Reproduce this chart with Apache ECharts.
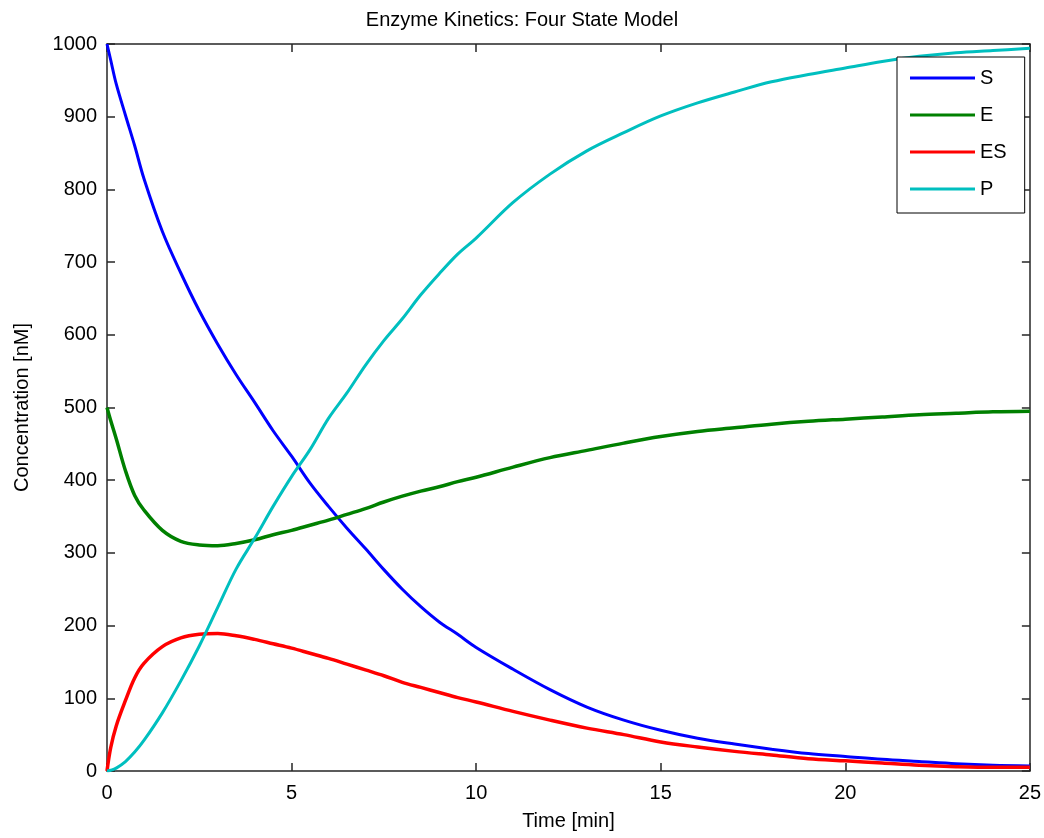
<!DOCTYPE html>
<html>
<head>
<meta charset="utf-8">
<title>Enzyme Kinetics</title>
<script src="https://cdn.jsdelivr.net/npm/echarts@6/dist/echarts.min.js"></script>
<style>
  html, body { margin: 0; padding: 0; background: #fff; }
  #main { width: 1044px; height: 838px; }
</style>
</head>
<body>
<div id="main"></div>
<script>
// time points [min]
var timeMin = [0, 0.1, 0.25, 0.5, 0.75, 1, 1.5, 2, 2.5, 3, 3.5, 4, 4.5, 5, 5.5, 6, 6.5, 7, 7.5, 8, 8.5, 9, 9.5, 10,
  11, 12, 13, 14, 15, 16, 17, 18, 19, 20, 21, 22, 23, 24, 25];
// concentrations [nM]
var sVals = [1000, 978, 945, 902, 860, 815, 742, 685, 633, 587, 545, 507, 468, 433, 396, 364, 334, 306, 277, 250, 226, 205, 188, 170,
  140, 112, 88, 70, 56, 45, 37, 30, 24, 20, 16, 13, 10, 8, 7];
var eVals = [500, 482, 457, 413, 379, 359, 331, 316, 311, 310, 313, 318, 325, 331, 338, 345, 353, 361, 370, 378, 385, 391, 398, 404,
  418, 431, 441, 451, 460, 467, 472, 477, 481, 484, 487, 490, 492, 494, 495];
var esVals = [0, 32, 62, 97, 128, 148, 171, 183, 188, 189, 186, 181, 175, 169, 162, 155, 147, 139, 131, 122, 115, 108, 101, 95,
  82, 70, 59, 50, 40, 33, 27, 22, 17, 14, 11, 8, 6, 5, 5];
var pVals = [0, 1, 4, 13, 26, 42, 80, 124, 172, 225, 278, 320, 364, 405, 442, 485, 520, 558, 592, 622, 655, 684, 711, 733,
  782, 821, 853, 878, 901, 919, 934, 948, 958, 967, 976, 983, 988, 991, 994];

var seriesNames = ['S', 'E', 'ES', 'P'];
var seriesColors = ['#0000ff', '#008000', '#ff0000', '#00bfbf'];
var seriesData = [sVals, eVals, esVals, pVals];

function pairs(vals) {
  return timeMin.map(function (t, i) { return [t, vals[i]]; });
}

var font = "'Liberation Sans', Arial, sans-serif";
var axisColor = '#262626';

var myChart = echarts.init(document.getElementById('main'));

var series = seriesNames.map(function (name, i) {
  return {
    name: name,
    type: 'line',
    data: pairs(seriesData[i]),
    symbol: 'none',
    smooth: 0.35,
    lineStyle: { color: seriesColors[i], width: (name === 'E' || name === 'ES') ? 3.5 : 3 },
    itemStyle: { color: seriesColors[i] }
  };
});

myChart.setOption({
  backgroundColor: '#fff',
  animation: false,
  title: {
    text: 'Enzyme Kinetics: Four State Model',
    left: 'center',
    top: 5,
    textStyle: { fontFamily: font, fontSize: 20, fontWeight: 'normal', color: '#000' }
  },
  legend: {
    data: seriesNames,
    orient: 'vertical',
    left: 897,
    top: 57,
    padding: [11, 18, 14, 13],
    icon: 'path://M0,0L65,0L65,3L0,3Z',
    itemWidth: 65,
    itemHeight: 14,
    itemGap: 17,
    backgroundColor: '#fff',
    borderColor: '#000',
    borderWidth: 1,
    textStyle: { fontFamily: font, fontSize: 20, color: '#000' }
  },
  grid: {
    left: 107,
    right: 12,
    top: 44,
    bottom: 67
  },
  xAxis: [
    {
      type: 'value',
      min: 0,
      max: 25,
      interval: 5,
      name: 'Time [min]',
      nameLocation: 'middle',
      nameGap: 40,
      nameTextStyle: { fontFamily: font, fontSize: 20, color: '#000' },
      axisLine: { onZero: false, lineStyle: { color: axisColor, width: 1.5 } },
      axisTick: { inside: true, length: 8, lineStyle: { color: axisColor, width: 1.5 } },
      axisLabel: { margin: 12, fontFamily: font, fontSize: 20, color: '#000' },
      splitLine: { show: false }
    },
    {
      type: 'value',
      position: 'top',
      min: 0,
      max: 25,
      interval: 5,
      axisLine: { onZero: false, lineStyle: { color: axisColor, width: 1.5 } },
      axisTick: { inside: true, length: 8, lineStyle: { color: axisColor, width: 1.5 } },
      axisLabel: { show: false },
      splitLine: { show: false }
    }
  ],
  yAxis: [
    {
      type: 'value',
      min: 0,
      max: 1000,
      interval: 100,
      name: 'Concentration [nM]',
      nameLocation: 'middle',
      nameGap: 75,
      nameTextStyle: { fontFamily: font, fontSize: 20, color: '#000' },
      axisLine: { show: true, onZero: false, lineStyle: { color: axisColor, width: 1.5 } },
      axisTick: { show: true, inside: true, length: 8, lineStyle: { color: axisColor, width: 1.5 } },
      axisLabel: {
        margin: 10, fontFamily: font, fontSize: 20, color: '#000',
        formatter: function (v) { return String(v); }
      },
      splitLine: { show: false }
    },
    {
      type: 'value',
      position: 'right',
      min: 0,
      max: 1000,
      interval: 100,
      axisLine: { show: true, onZero: false, lineStyle: { color: axisColor, width: 1.5 } },
      axisTick: { show: true, inside: true, length: 8, lineStyle: { color: axisColor, width: 1.5 } },
      axisLabel: { show: false },
      splitLine: { show: false }
    }
  ],
  series: series
});
window.addEventListener('resize', myChart.resize);
</script>
</body>
</html>
